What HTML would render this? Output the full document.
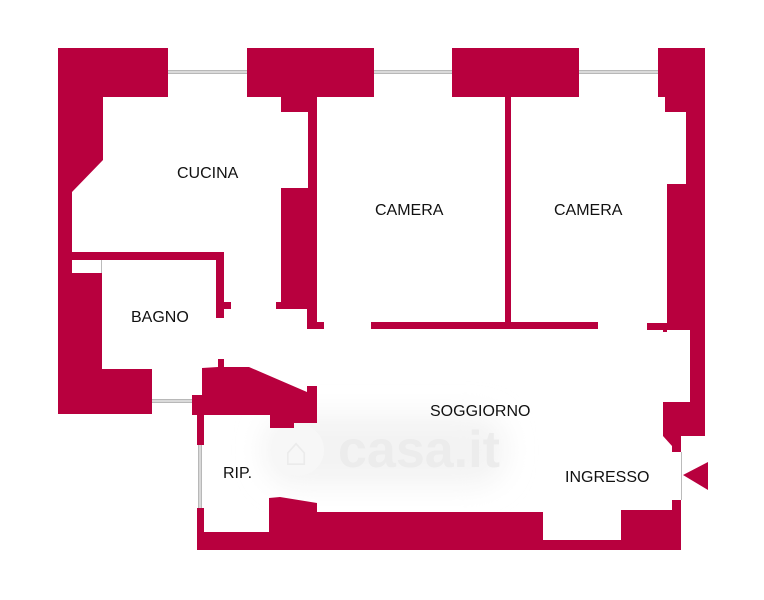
<!DOCTYPE html>
<html><head><meta charset="utf-8"><style>
html,body{margin:0;padding:0;background:#fff;}
svg{display:block;}
text{font-family:"Liberation Sans",Arial,sans-serif;font-size:16px;fill:#111;}
</style></head><body>
<svg width="764" height="600" viewBox="0 0 764 600" xmlns="http://www.w3.org/2000/svg">
<defs><filter id="b" x="-20%" y="-50%" width="140%" height="200%"><feGaussianBlur stdDeviation="14"/></filter></defs>
<rect x="265" y="415" width="240" height="70" rx="30" fill="#f3f3f3" filter="url(#b)"/>
<circle cx="298" cy="450" r="26" fill="#f7f7f7"/>
<text x="284" y="465" style="font-size:40px;fill:#ebebeb">⌂</text>
<text x="338" y="467" style="font-size:52px;font-weight:bold;fill:#ececec">casa.it</text>
<!-- windows -->
<g stroke="#b8b8b8" stroke-width="4">
<line x1="168" y1="72" x2="247" y2="72"/>
<line x1="374" y1="72" x2="452" y2="72"/>
<line x1="579" y1="72" x2="658" y2="72"/>
<line x1="152" y1="401" x2="192" y2="401"/>
<line x1="200" y1="445" x2="200" y2="508"/>
</g>
<g stroke="#eee" stroke-width="1.2">
<line x1="168" y1="72" x2="247" y2="72"/>
<line x1="374" y1="72" x2="452" y2="72"/>
<line x1="579" y1="72" x2="658" y2="72"/>
<line x1="152" y1="401" x2="192" y2="401"/>
<line x1="200" y1="445" x2="200" y2="508"/>
</g>
<line x1="101.5" y1="260" x2="101.5" y2="273" stroke="#bbb" stroke-width="1"/>
<line x1="681.5" y1="452" x2="681.5" y2="500" stroke="#bbb" stroke-width="1"/>
<g fill="#b8003e">
<polygon points="58,48 168,48 168,97 103,97 103,160 72,192 72,252 58,252"/>
<rect x="58" y="252" width="166" height="8"/>
<rect x="58" y="260" width="14" height="13"/>
<polygon points="58,273 102,273 102,369 152,369 152,414 58,414"/>
<rect x="216" y="252" width="8" height="66"/>
<rect x="224" y="302" width="7" height="7"/>
<rect x="247" y="48" width="127" height="49"/>
<rect x="281" y="96" width="36" height="16"/>
<rect x="308" y="112" width="9" height="76"/>
<rect x="281" y="188" width="36" height="121"/>
<rect x="276" y="302" width="41" height="7"/>
<rect x="307" y="309" width="10" height="20"/>
<rect x="317" y="322" width="7" height="7"/>
<rect x="452" y="48" width="127" height="49"/>
<rect x="505" y="96" width="6" height="227"/>
<rect x="371" y="322" width="227" height="7"/>
<polygon points="658,48 705,48 705,436 681,436 681,452 672,452 672,446 663,436 663,402 690,402 690,330 667,330 667,332 663,332 663,330 647,330 647,323 667,323 667,184 686,184 686,112 665,112 665,97 658,97"/>
<polygon points="672,500 681,500 681,550 197,550 197,508 204,508 204,532 269,532 269,498 280,497 317,503 317,512 543,512 543,540 621,540 621,510 672,510"/>
<polygon points="683,475 708,462 708,490"/>
<polygon points="202,368 218,367 218,359 224,359 224,367 249,367 307,392 307,386 317,386 317,423 294,423 294,428 270,428 270,415 204,415 204,445 197,445 197,415 192,415 192,395 202,395"/>
</g>
<text x="177" y="178">CUCINA</text>
<text x="375" y="215">CAMERA</text>
<text x="554" y="215">CAMERA</text>
<text x="131" y="322">BAGNO</text>
<text x="430" y="416">SOGGIORNO</text>
<text x="223" y="478">RIP.</text>
<text x="565" y="482">INGRESSO</text>
</svg>
</body></html>
